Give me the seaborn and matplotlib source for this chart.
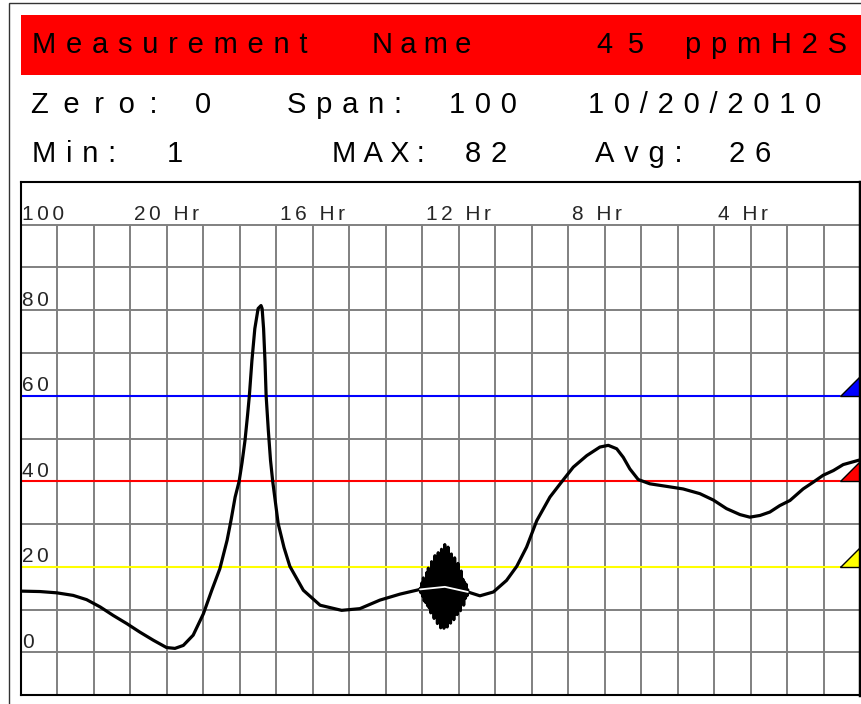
import numpy as np
import matplotlib
matplotlib.use('Agg')
import matplotlib.pyplot as plt
import seaborn as sns
from matplotlib.patches import Rectangle, Polygon

# trace: hours ago -> ppm
hours_ago = [23.00, 22.48, 22.02, 21.57, 21.20, 20.83, 20.47, 20.10, 19.74, 19.37,
             19.01, 18.78, 18.55, 18.28, 18.00, 17.77, 17.55, 17.35, 17.24, 17.13,
             17.02, 16.94, 16.86, 16.79, 16.74, 16.67, 16.59, 16.50, 16.42, 16.39,
             16.35, 16.31, 16.28, 16.22, 16.16, 16.10, 15.95, 15.79, 15.63, 15.26,
             14.80, 14.21, 13.71, 13.16, 12.61, 12.06, 11.38, 10.75, 10.42, 10.05,
             9.69, 9.41, 9.14, 8.86, 8.50, 8.22, 7.86, 7.49, 7.13, 6.90,
             6.67, 6.49, 6.31, 6.08, 5.76, 5.30, 4.85, 4.39, 4.02, 3.66,
             3.29, 3.02, 2.74, 2.47, 2.20, 1.92, 1.56, 1.28, 1.01, 0.73,
             0.46, 0.00]
ppm = [14.3, 14.2, 13.9, 13.3, 12.3, 10.6, 8.6, 6.7, 4.7, 2.8,
       1.1, 0.9, 1.6, 4.0, 9.0, 14.5, 19.5, 26.2, 31.0, 36.3,
       40.0, 44.4, 49.5, 55.4, 60.0, 68.2, 75.7, 80.4, 81.1, 80.4,
       75.7, 67.8, 60.0, 51.9, 44.9, 40.0, 30.1, 24.5, 20.1, 14.5,
       11.0, 9.8, 10.2, 12.2, 13.6, 14.7, 15.3, 14.1, 13.2, 14.1,
       16.8, 20.1, 24.6, 30.8, 36.3, 39.4, 43.3, 46.0, 48.0, 48.4,
       47.6, 45.6, 42.9, 40.4, 39.4, 38.8, 38.2, 37.1, 35.6, 33.6,
       32.2, 31.6, 32.0, 32.8, 34.3, 35.5, 38.2, 39.8, 41.4, 42.5,
       43.9, 45.0]

# burst of noise around 12 Hr
noise_start, noise_end = 12.06, 10.75
noise_ppm = [14.9, 13.9, 16.2, 13.1, 17.4, 12.0, 16.8, 11.6, 18.6, 10.9,
             19.7, 10.4, 18.1, 9.2, 21.2, 9.8, 20.4, 7.9, 22.6, 8.5,
             21.5, 6.7, 23.3, 7.4, 22.0, 5.7, 24.1, 6.6, 22.4, 5.6,
             25.2, 6.9, 23.9, 5.9, 24.6, 7.8, 21.8, 6.8, 23.0, 8.3,
             20.6, 7.6, 22.1, 9.0, 19.5, 8.8, 20.8, 10.1, 18.2, 9.7,
             19.0, 11.4, 17.1, 11.0, 16.4, 12.6, 15.9, 13.2, 14.6]

alarm_levels = [60, 40, 20]
alarm_colors = ['#0000FF', '#FF0000', '#FFFF00']
hour_labels = [20, 16, 12, 8, 4]
ppm_labels = [100, 80, 60, 40, 20, 0]

name = 'Measurement Name'
reading, unit = 45, 'ppmH2S'
zero, span, date = 0, 100, '10/20/2010'
vmin, vmax, vavg = 1, 82, 26

sns.set_style('white')
plt.rcParams['font.family'] = ['Liberation Sans', 'DejaVu Sans']

W, H = 862, 704
fig = plt.figure(figsize=(W / 100, H / 100), dpi=100)


def put(x, y, s, size=21, gap='\u2004'):
    # letters are spread out like on the instrument display
    fig.text(x / W, 1 - y / H, gap.join(s), fontsize=size, ha='left', va='baseline', color='black')


# outer frame and red title bar
fig.add_artist(Rectangle((9 / W, -0.01), 1.02, (H - 3) / H + 0.01, transform=fig.transFigure,
                         fill=False, edgecolor='#333333', lw=1.0))
fig.add_artist(Rectangle((21 / W, 1 - 75 / H), 1.0, 60 / H, transform=fig.transFigure,
                         facecolor='#FF0000', edgecolor='none'))

word1, word2 = name.split()
put(32, 53, word1)
put(372, 53, word2, gap='\u2005')
put(597, 53, str(reading), gap='\u2002')
put(685, 53, unit)

put(31, 113, 'Zero:', gap='\u2002')
put(195, 113, str(zero))
put(287, 113, 'Span:')
put(449, 113, str(span))
put(588, 113, date)

put(32, 162, 'Min:')
put(167, 162, str(vmin))
put(332, 162, 'MAX:', gap='\u2005')
put(465, 162, str(vmax))
put(595, 162, 'Avg:')
put(729, 162, str(vavg))

# chart area
ax = fig.add_axes([21 / W, 9 / H, 839 / W, 513 / H])
ax.set_xlim(23, 0)
ax.set_ylim(-10, 110)

grid_c = '#808080'
ax.vlines(range(1, 23), -10, 100, color=grid_c, lw=1.4, zorder=1)
ax.hlines(range(0, 101, 10), 23, 0, color=grid_c, lw=1.4, zorder=1)

for lvl, c in zip(alarm_levels, alarm_colors):
    ax.hlines(lvl, 23, 0.55, color=c, lw=1.5, zorder=2)
    tri = Polygon([(0.55, lvl), (0.02, lvl), (0.02, lvl + 4.5)], closed=True,
                  facecolor=c, edgecolor='black', lw=1.0, zorder=3)
    ax.add_patch(tri)

sns.lineplot(x=hours_ago, y=ppm, ax=ax, color='black', linewidth=2.3,
             estimator=None, sort=False, zorder=4)

# dense zigzag, thick enough to fill in solid like on the screen
noise_x = np.linspace(noise_start, noise_end, len(noise_ppm))
sns.lineplot(x=noise_x, y=noise_ppm, ax=ax, color='black', linewidth=2.2,
             estimator=None, sort=False, zorder=5)

h = np.array(hours_ago)
p = np.array(ppm)
mask = (h <= noise_start) & (h >= noise_end)
ax.plot(h[mask], p[mask], color='white', lw=1.3, zorder=6)

for v in ppm_labels:
    ax.text(22.98, v + 1, '\u2006'.join(str(v)), fontsize=15, ha='left', va='baseline', zorder=7)
for hr in hour_labels:
    ax.text(hr - 0.1, 101, '\u2006'.join(f'{hr} Hr'), fontsize=15, ha='left', va='baseline', zorder=7)

ax.set_xticks([])
ax.set_yticks([])
ax.set_xlabel('')
ax.set_ylabel('')
for side, sp in ax.spines.items():
    sp.set_visible(True)
    sp.set_color('black')
    sp.set_linewidth(1.5)
ax.spines['right'].set_linewidth(2.5)

fig.savefig('out.png', dpi=100)
